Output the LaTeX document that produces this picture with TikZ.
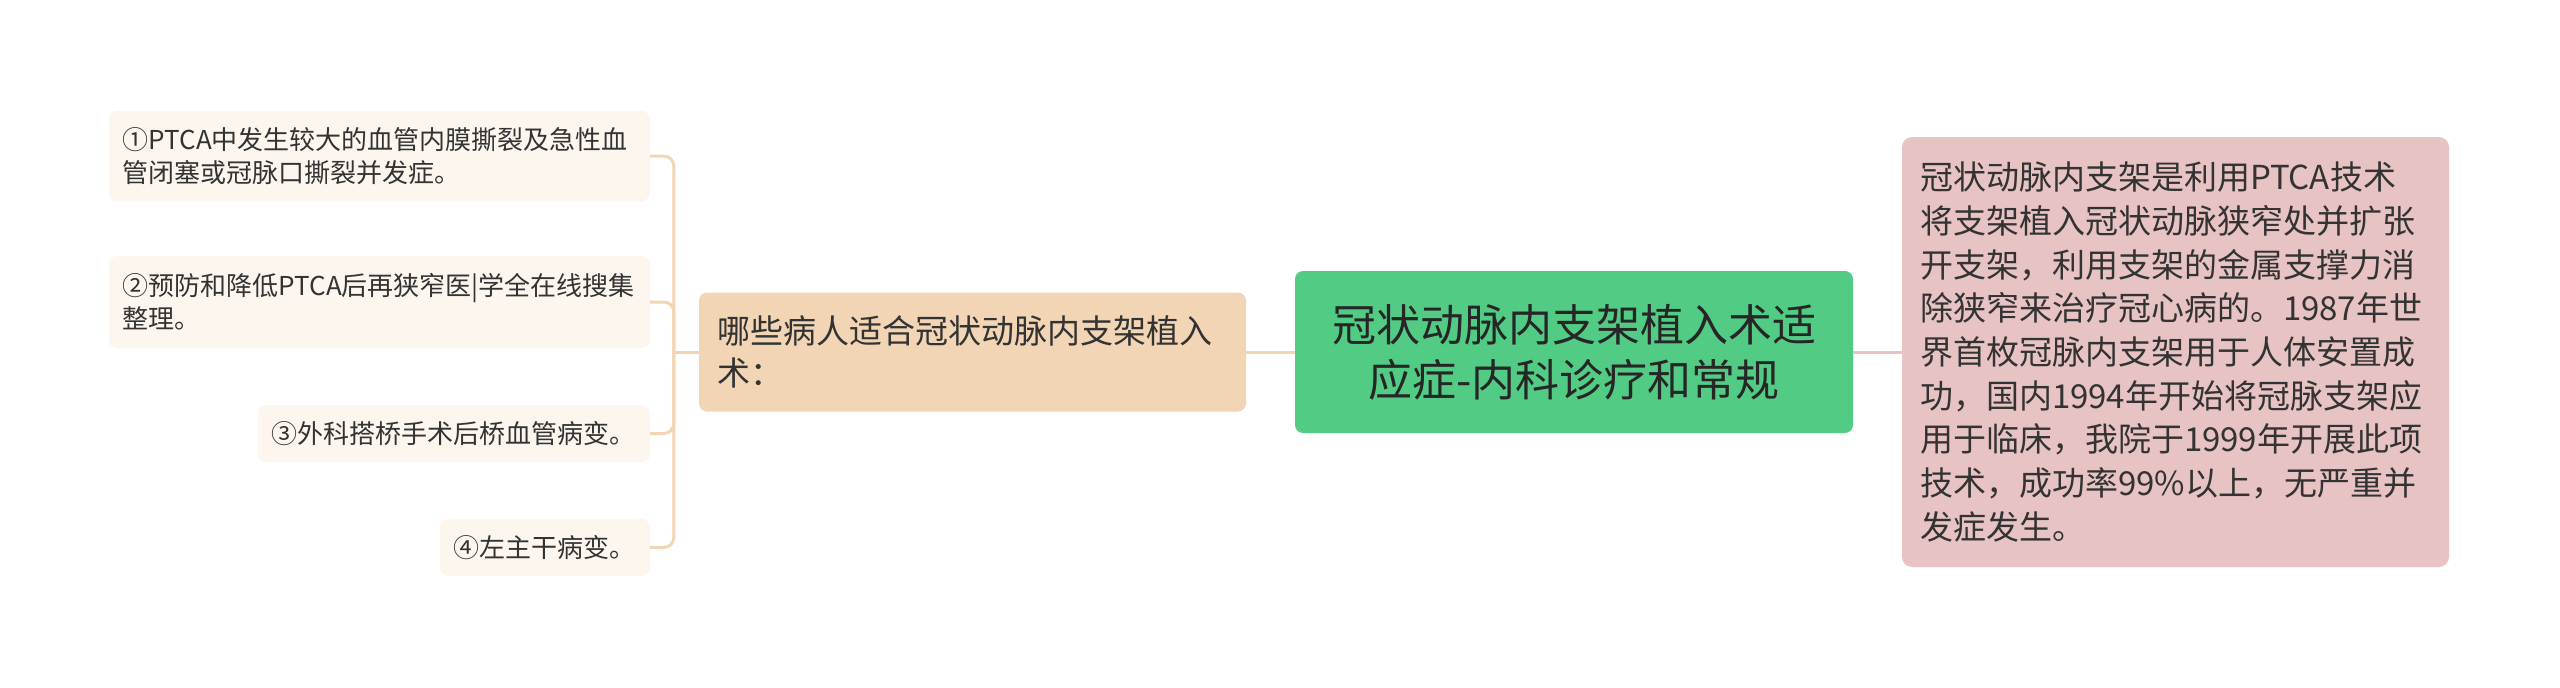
\documentclass[tikz,border=0pt]{standalone}
\usepackage{fontspec}
\usepackage{tikz}
\newfontfamily\cjk{Noto Sans CJK SC}

\definecolor{rootgreen}{RGB}{82,204,133}
\definecolor{topicpeach}{RGB}{242,213,180}
\definecolor{notepink}{RGB}{232,195,195}
\definecolor{leafcream}{RGB}{253,246,238}
\definecolor{textgray}{RGB}{51,51,51}

\tikzset{
  rootbox/.style ={fill=rootgreen, rounded corners=8pt, text=black!85, align=center,
                   font=\cjk\fontsize{44}{55}\selectfont,
                   minimum width=558pt, minimum height=162pt, inner sep=0pt},
  topicbox/.style={fill=topicpeach, rounded corners=8pt, text=textgray, align=left,
                   font=\cjk\fontsize{33}{42}\selectfont, text width=511pt,
                   inner xsep=18pt, inner ysep=0pt, minimum height=119pt},
  notebox/.style ={fill=notepink, rounded corners=10pt, text=textgray, align=left,
                   font=\cjk\fontsize{33}{43.7}\selectfont, text width=511pt,
                   inner xsep=18pt, inner ysep=0pt, minimum height=430pt},
  leafbox/.style ={fill=leafcream, rounded corners=8pt, text=textgray, align=left,
                   font=\cjk\fontsize{26}{33}\selectfont, anchor=east,
                   inner xsep=14pt, inner ysep=0pt, minimum height=57pt},
  link/.style    ={line width=3pt, draw=topicpeach},
}

\begin{document}
\begin{tikzpicture}[x=1pt, y=-1pt]
    \useasboundingbox (0,0) rectangle (2560,688);
    \node[rootbox]  (root)  at (1574,  352) {冠状动脉内支架植入术适\\应症-内科诊疗和常规};
    \node[topicbox] (topic) at ( 972.5,352) {哪些病人适合冠状动脉内支架植入\\术：};
    \node[notebox]  (note)  at (2175.5,352) {冠状动脉内支架是利用PTCA技术\\将支架植入冠状动脉狭窄处并扩张\\开支架，利用支架的金属支撑力消\\除狭窄来治疗冠心病的。1987年世\\界首枚冠脉内支架用于人体安置成\\功，国内1994年开始将冠脉支架应\\用于临床，我院于1999年开展此项\\技术，成功率99\%以上，无严重并\\发症发生。};
    \node[leafbox, text width=513pt, minimum height=90pt] (leaf1) at (650,156) {①PTCA中发生较大的血管内膜撕裂及急性血\\管闭塞或冠脉口撕裂并发症。};
    \node[leafbox, text width=513pt, minimum height=92pt] (leaf2) at (650,302) {②预防和降低PTCA后再狭窄医|学全在线搜集\\整理。};
    \node[leafbox] (leaf3) at (650,433.5) {③外科搭桥手术后桥血管病变。};
    \node[leafbox] (leaf4) at (650,547.5) {④左主干病变。};
    \draw[link] (topic.east) -- (root.west);
    \draw[link, draw=notepink] (root.east) -- (note.west);
    \draw[link] (topic.west) -- ++(-25,0) coordinate (fork);
    \foreach \leaf in {leaf1,leaf2,leaf3,leaf4}
      \draw[link, rounded corners=10pt] (fork) |- (\leaf.east);
  \end{tikzpicture}
\end{document}
